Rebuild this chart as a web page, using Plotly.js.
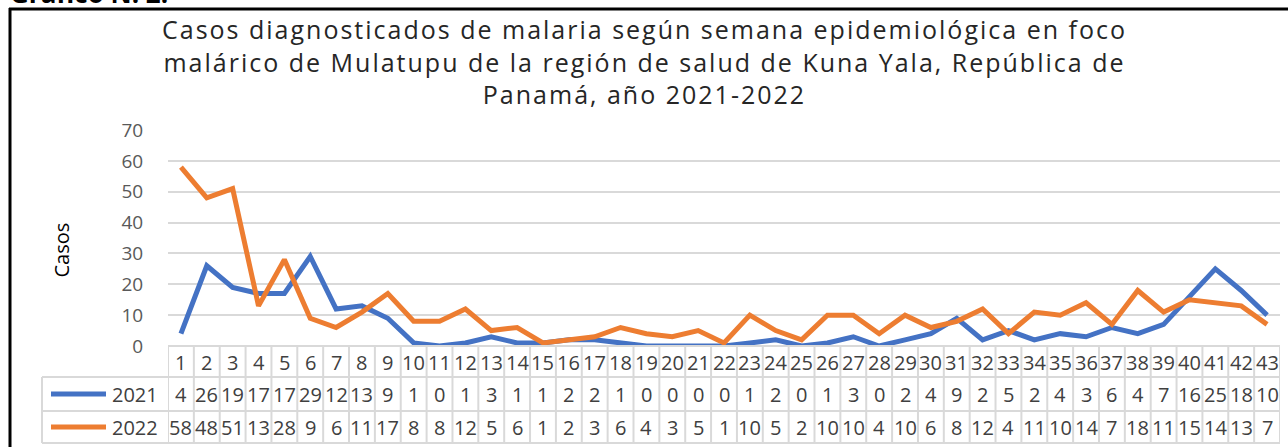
<!DOCTYPE html>
<html>
<head>
<meta charset="utf-8">
<script src="https://cdn.plot.ly/plotly-3.0.1.min.js"></script>
<style>
  body { margin: 0; background: #fff; }
  #plot { width: 1288px; height: 447px; }
</style>
</head>
<body>
<div id="plot"></div>
<script>
// semanas epidemiologicas
var semanas = ['1','2','3','4','5','6','7','8','9','10','11','12','13','14','15','16','17','18','19','20','21','22',
  '23','24','25','26','27','28','29','30','31','32','33','34','35','36','37','38','39','40','41','42','43'];

var casos2021 = [4,26,19,17,17,29,12,13,9,1,0,1,3,1,1,2,2,1,0,0,0,0,1,2,0,1,3,0,2,4,9,2,5,2,4,3,6,4,7,16,25,18,10];
var casos2022 = [58,48,51,13,28,9,6,11,17,8,8,12,5,6,1,2,3,6,4,3,5,1,10,5,2,10,10,4,10,6,8,12,4,11,10,14,7,18,11,15,14,13,7];

var yTicks = [0,10,20,30,40,50,60,70];

var titulo = [
  'Casos diagnosticados de malaria según semana epidemiológica en foco',
  'malárico de Mulatupu de la región de salud de Kuna Yala, República de',
  'Panamá, año 2021-2022'
];

var azul = '#4472C4';
var naranja = '#ED7D31';
var gris = '#d9d9d9';
var texto = '#404040';

// plot area in pixels
var L = 168, R = 1280, T = 130, B = 346;
function px(x) { return (x - L) / (R - L); }
function py(y) { return (B - y) / (B - T); }

var trace1 = {
  x: semanas,
  y: casos2021,
  mode: 'lines',
  type: 'scatter',
  name: '2021',
  line: { color: azul, width: 5 }
};

var trace2 = {
  x: semanas,
  y: casos2022,
  mode: 'lines',
  type: 'scatter',
  name: '2022',
  line: { color: naranja, width: 5 }
};

var fila1 = 362, fila2 = 394, fila3 = 427;

var shapes = [];
var annotations = [];

// black frame
shapes.push({ type: 'line', xref: 'paper', yref: 'paper', x0: px(9), x1: px(1290), y0: py(9), y1: py(9),
  line: { color: '#000', width: 3 } });
shapes.push({ type: 'line', xref: 'paper', yref: 'paper', x0: px(10), x1: px(10), y0: py(8), y1: py(450),
  line: { color: '#000', width: 3 } });

// table horizontal lines
[[L, B], [42, 377], [42, 411], [42, 443]].forEach(function (h) {
  shapes.push({ type: 'line', xref: 'paper', yref: 'paper', x0: px(h[0]), x1: px(R), y0: py(h[1]), y1: py(h[1]),
    line: { color: gris, width: 2 } });
});
// left border of the legend column
shapes.push({ type: 'line', xref: 'paper', yref: 'paper', x0: px(42), x1: px(42), y0: py(377), y1: py(443),
  line: { color: gris, width: 2 } });
// column borders
for (var i = 0; i <= semanas.length; i++) {
  shapes.push({ type: 'line', xref: 'x', yref: 'paper', x0: i - 0.5, x1: i - 0.5, y0: py(B), y1: py(443),
    line: { color: gris, width: 2 } });
}

// legend keys
shapes.push({ type: 'line', xref: 'paper', yref: 'paper', x0: px(51), x1: px(106), y0: py(fila2), y1: py(fila2),
  line: { color: azul, width: 5 } });
shapes.push({ type: 'line', xref: 'paper', yref: 'paper', x0: px(51), x1: px(106), y0: py(fila3), y1: py(fila3),
  line: { color: naranja, width: 5 } });

var celda = { family: 'Open Sans, sans-serif', size: 20, color: texto };

annotations.push({ xref: 'paper', yref: 'paper', x: px(110), y: py(fila2), xanchor: 'left', yanchor: 'middle',
  text: '2021', showarrow: false, font: celda });
annotations.push({ xref: 'paper', yref: 'paper', x: px(110), y: py(fila3), xanchor: 'left', yanchor: 'middle',
  text: '2022', showarrow: false, font: celda });

semanas.forEach(function (s, k) {
  annotations.push({ xref: 'x', yref: 'paper', x: k, y: py(fila1), yanchor: 'middle',
    text: s, showarrow: false, font: celda });
  annotations.push({ xref: 'x', yref: 'paper', x: k, y: py(fila2), yanchor: 'middle',
    text: String(casos2021[k]), showarrow: false, font: celda });
  annotations.push({ xref: 'x', yref: 'paper', x: k, y: py(fila3), yanchor: 'middle',
    text: String(casos2022[k]), showarrow: false, font: celda });
});

// y axis title
annotations.push({ xref: 'paper', yref: 'paper', x: px(45), y: py(250), textangle: -90,
  text: 'Casos', showarrow: false, font: { family: 'Open Sans, sans-serif', size: 20, color: '#000' } });

// chart title (slightly spaced out, like the wide original)
annotations.push({ xref: 'paper', yref: 'paper', x: px(644), y: py(62), xanchor: 'center', yanchor: 'middle',
  text: titulo.map(function (t) { return '<span style="letter-spacing:2px">' + t + '</span>'; }).join('<br>'),
  showarrow: false, font: { family: 'Open Sans, sans-serif', size: 25, color: '#262626' } });

// heading cut off at the top of the page
annotations.push({ xref: 'paper', yref: 'paper', x: px(8), y: py(13), xanchor: 'left', yanchor: 'bottom',
  text: '<b>Gráfico N. 2.</b>', showarrow: false, font: { family: 'Open Sans, sans-serif', size: 26, color: '#000' } });

var layout = {
  width: 1288,
  height: 447,
  margin: { l: L, r: 1288 - R, t: T, b: 447 - B },
  paper_bgcolor: '#fff',
  plot_bgcolor: '#fff',
  showlegend: false,
  xaxis: {
    type: 'category',
    range: [-0.5, semanas.length - 0.5],
    showticklabels: false,
    showgrid: false,
    zeroline: false,
    ticks: '',
    fixedrange: true
  },
  yaxis: {
    range: [0, 70],
    tickvals: yTicks,
    showgrid: true,
    gridcolor: gris,
    gridwidth: 1.5,
    zeroline: false,
    ticks: 'outside',
    ticklen: 20,
    tickcolor: 'rgba(0,0,0,0)',
    tickfont: { family: 'Open Sans, sans-serif', size: 19, color: '#595959' }
  },
  shapes: shapes,
  annotations: annotations
};

Plotly.newPlot('plot', [trace1, trace2], layout, { displayModeBar: false });
</script>
</body>
</html>
